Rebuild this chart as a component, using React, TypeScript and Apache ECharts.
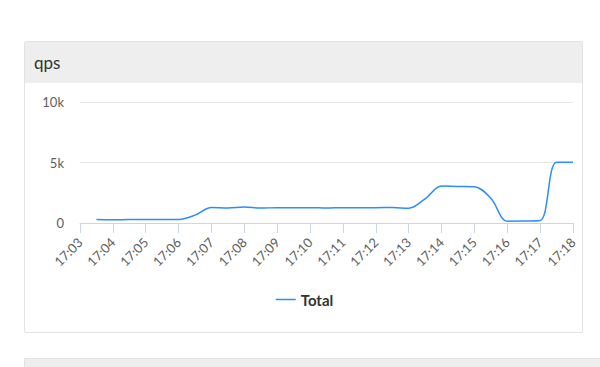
import React, { useEffect, useRef } from "react";
import * as echarts from "echarts";

const times: string[] = [
  "17:03:30", "17:04:00", "17:04:30", "17:05:00", "17:05:30", "17:06:00",
  "17:06:30", "17:07:00", "17:07:30", "17:08:00", "17:08:30", "17:09:00",
  "17:09:30", "17:10:00", "17:10:30", "17:11:00", "17:11:30", "17:12:00",
  "17:12:30", "17:13:00", "17:13:30", "17:14:00", "17:14:30", "17:15:00",
  "17:15:30", "17:16:00", "17:16:30", "17:17:00", "17:17:30", "17:18:00",
];
const totalValues: number[] = [
  280, 270, 280, 280, 280, 290,
  650, 1280, 1250, 1320, 1230, 1270,
  1270, 1270, 1240, 1270, 1270, 1270,
  1280, 1220, 2000, 3050, 3020, 3000,
  2050, 150, 160, 200, 5030, 5030,
];
const seriesName = "Total";
const xMinMinute = 3;
const xMaxMinute = 18;
const yTicks: number[] = [0, 5000, 10000];

const toMinutes = (t: string) => {
  const [h, m, s] = t.split(":").map(Number);
  return (h - 17) * 60 + m + s / 60;
};
const pad = (n: number) => (n < 10 ? "0" + n : "" + n);

const FONT = "Lato, 'Open Sans', sans-serif";

function Chart() {
  const ref = useRef<HTMLDivElement>(null);
  useEffect(() => {
    if (!ref.current) return;
    const chart = echarts.init(ref.current, undefined, { renderer: "svg" });
    chart.setOption({
      animation: false,
      textStyle: { fontFamily: FONT },
      grid: { left: 54, right: 10, top: 19, bottom: 109, containLabel: false },
      legend: {
        data: [{ name: seriesName, icon: "rect" }],
        top: 204,
        left: "center",
        itemWidth: 20,
        itemHeight: 1.5,
        itemGap: 10,
        textStyle: { fontFamily: FONT, fontSize: 15, fontWeight: "bold", color: "#333" },
      },
      xAxis: {
        type: "value",
        min: xMinMinute,
        max: xMaxMinute,
        interval: 1,
        axisLine: { show: true, lineStyle: { color: "#ccd6eb", width: 1 } },
        axisTick: { show: true, length: 10, lineStyle: { color: "#ccd6eb" } },
        splitLine: { show: false },
        axisLabel: {
          rotate: 45,
          margin: 17,
          color: "#606060",
          fontSize: 13,
          fontFamily: FONT,
          formatter: (v: number) => "17:" + pad(Math.round(v)),
        },
      },
      yAxis: {
        type: "value",
        min: yTicks[0],
        max: yTicks[yTicks.length - 1],
        interval: yTicks[1] - yTicks[0],
        axisLine: { show: false },
        axisTick: { show: false },
        splitLine: { lineStyle: { color: "#e6e6e6", width: 1 } },
        axisLabel: {
          color: "#606060",
          fontSize: 13,
          fontFamily: FONT,
          margin: 16,
          formatter: (v: number) => (v === 0 ? "0" : v / 1000 + "k"),
        },
      },
      series: [
        {
          name: seriesName,
          type: "line",
          smooth: 0.35,
          symbol: "none",
          lineStyle: { color: "#2b8dff", width: 1.5 },
          itemStyle: { color: "#2b8dff" },
          data: times.map((t, i) => [toMinutes(t), totalValues[i]]),
        },
      ],
    });
    return () => chart.dispose();
  }, []);
  return (
    <div
      ref={ref}
      style={{ position: "absolute", left: 1, top: 41, width: 557, height: 249 }}
    />
  );
}

export default function App() {
  return (
    <div
      style={{
        position: "fixed",
        left: 0,
        top: 0,
        width: 600,
        height: 367,
        overflow: "hidden",
        background: "#fff",
        fontFamily: FONT,
      }}
    >
      <div
        style={{
          position: "absolute",
          left: 24,
          top: 41,
          width: 557,
          height: 290,
          border: "1px solid #e3e3e3",
          borderRadius: 2,
          background: "#fff",
          boxSizing: "content-box",
        }}
      >
        <div
          style={{
            position: "absolute",
            left: 0,
            top: 0,
            right: 0,
            height: 41,
            background: "#eeeeee",
            color: "#333",
            fontSize: 17,
            lineHeight: "41px",
            paddingLeft: 9,
            boxSizing: "border-box",
          }}
        >
          qps
        </div>
        <Chart />
      </div>
      <div
        style={{
          position: "absolute",
          left: 24,
          top: 358,
          width: 600,
          height: 40,
          background: "#eeeeee",
          border: "1px solid #e3e3e3",
        }}
      />
    </div>
  );
}
